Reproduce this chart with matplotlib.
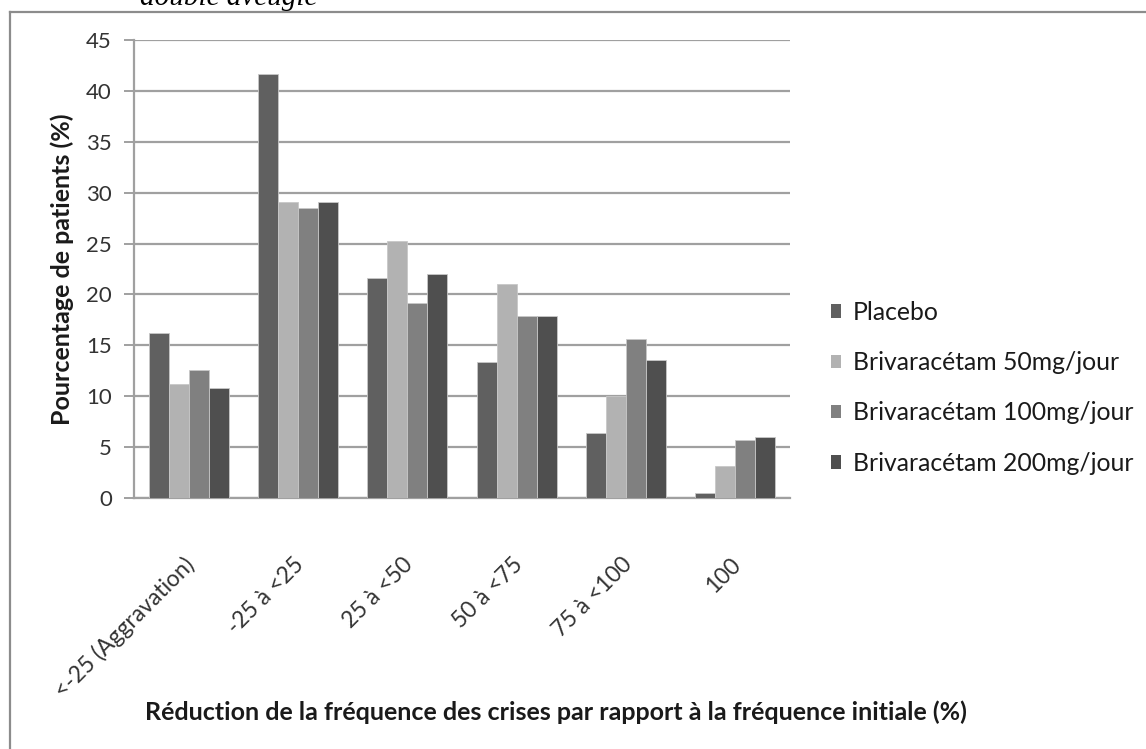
import matplotlib
matplotlib.use("Agg")
import matplotlib.pyplot as plt
from matplotlib.patches import Patch
from matplotlib.lines import Line2D
import matplotlib.transforms as mtransforms
import numpy as np

categories = ["<-25 (Aggravation)", "-25 à <25", "25 à <50", "50 à <75", "75 à <100", "100"]
series_names = ["Placebo", "Brivaracétam 50mg/jour", "Brivaracétam 100mg/jour", "Brivaracétam 200mg/jour"]
placebo = [16.2, 41.7, 21.6, 13.4, 6.4, 0.5]
briva50 = [11.2, 29.1, 25.3, 21.0, 10.0, 3.1]
briva100 = [12.6, 28.5, 19.2, 17.9, 15.6, 5.7]
briva200 = [10.8, 29.1, 22.0, 17.9, 13.6, 6.0]
colors = ["#606060", "#b2b2b2", "#808080", "#4f4f4f"]
yticks = [0, 5, 10, 15, 20, 25, 30, 35, 40, 45]

plt.rcParams['font.family'] = ['Lato', 'DejaVu Sans']

W, H = 1146, 749
fig = plt.figure(figsize=(W / 100, H / 100), dpi=100)
ax = fig.add_axes([134 / W, 1 - 498 / H, (790 - 134) / W, (498 - 40) / H])

x = np.arange(len(categories))
bw = 0.183
all_series = [placebo, briva50, briva100, briva200]
for i, (vals, name, c) in enumerate(zip(all_series, series_names, colors)):
    ax.bar(x + (i - 1.5) * bw, vals, width=bw, color=c, edgecolor="#c8c8c8",
           linewidth=0.6, label=name, zorder=3)

ax.set_xlim(-0.5, len(categories) - 0.5)
ax.set_ylim(0, 45)
ax.set_yticks(yticks)
ax.set_yticklabels([str(v) for v in yticks], fontsize=16, color="#333333")
ax.yaxis.grid(True, color="#a0a0a0", linewidth=1.6, zorder=0)
ax.set_axisbelow(True)
for s in ["top", "right"]:
    ax.spines[s].set_visible(False)
ax.spines["left"].set_color("#a0a0a0")
ax.spines["left"].set_linewidth(1.6)
ax.spines["bottom"].set_color("#a0a0a0")
ax.spines["bottom"].set_linewidth(1.6)
ax.tick_params(axis="y", length=7, width=1.4, color="#a0a0a0", pad=9)
ax.tick_params(axis="x", length=0, pad=40)

ax.set_xticks(x)
ax.set_xticklabels(categories, rotation=45, ha="right", va="top",
                   rotation_mode="anchor", fontsize=16.5, color="#333333")
offset = mtransforms.ScaledTranslation(-5 / 100, 0, fig.dpi_scale_trans)
for lab in ax.get_xticklabels():
    lab.set_transform(lab.get_transform() + offset)

fig.text(62 / W, 1 - 269 / H, "Pourcentage de patients (%)", rotation=90,
         fontsize=18, fontweight="bold", color="#1a1a1a", ha="center", va="center")
fig.text(556 / W, 1 - 712 / H,
         "Réduction de la fréquence des crises par rapport à la fréquence initiale (%)",
         fontsize=18, fontweight="bold", color="#1a1a1a", ha="center", va="center")

handles = [Patch(facecolor=c, edgecolor="none") for c in colors]
fig.legend(handles, series_names, loc="upper left",
           bbox_to_anchor=(831 / W, 1 - 301 / H), frameon=False,
           borderpad=0, borderaxespad=0,
           fontsize=17.8, handlelength=0.42, handleheight=0.48, handletextpad=0.45,
           labelspacing=1.1, labelcolor="#1a1a1a")

# outer frame of the original chart object
fig.add_artist(Line2D([10 / W, 1.0], [1 - 12 / H, 1 - 12 / H], transform=fig.transFigure,
                      color="#8c8c8c", linewidth=1.6))
fig.add_artist(Line2D([10 / W, 10 / W], [0, 1 - 12 / H], transform=fig.transFigure,
                      color="#8c8c8c", linewidth=1.6))

fig.text(140 / W, 1 - 5 / H, "double aveugle", fontsize=21, style="italic",
         family="Liberation Serif", ha="left", va="baseline", color="#000000")

fig.savefig("out.png", dpi=100)
